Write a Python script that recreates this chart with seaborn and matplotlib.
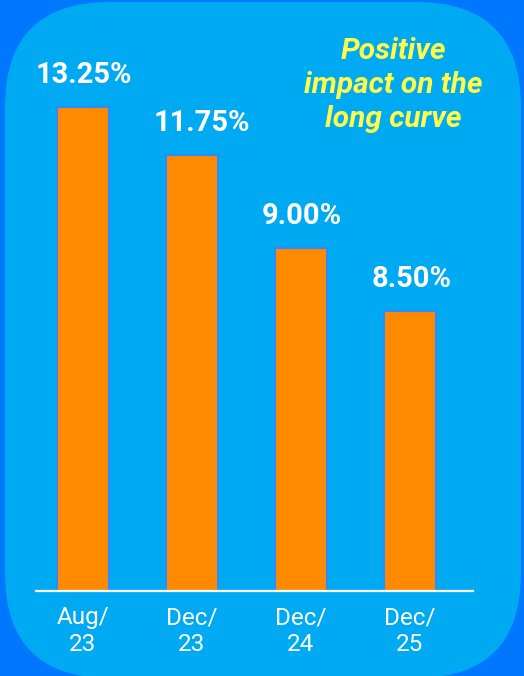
import matplotlib
matplotlib.use("Agg")
import matplotlib.pyplot as plt
from matplotlib.patches import FancyBboxPatch
import seaborn as sns

# data
periods = ["Aug/\n23", "Dec/\n23", "Dec/\n24", "Dec/\n25"]
rates = [13.25, 11.75, 9.00, 8.50]
# the bars in the picture are not drawn to scale, heights as they appear
bar_heights = [13.3, 11.97, 9.42, 7.69]
note = "Positive\nimpact on the\nlong curve"

outer_blue = "#0077ff"
panel_blue = "#00aaf2"
orange = "#ff8a00"
yellow = "#ffff4a"

sns.set_style("white")
plt.rcParams["font.family"] = ["Roboto", "DejaVu Sans"]

fig = plt.figure(figsize=(5.24, 6.76), dpi=100)
fig.patch.set_facecolor(outer_blue)

panel = FancyBboxPatch((0.05, -0.02), 5.16, 6.76,
                       boxstyle="round,pad=0,rounding_size=1.05",
                       transform=fig.dpi_scale_trans,
                       facecolor=panel_blue, edgecolor="none", zorder=0)
fig.add_artist(panel)

ax = fig.add_axes([36 / 524, 85 / 676, 437 / 524, 561 / 676])
ax.set_facecolor("none")

sns.barplot(x=periods, y=bar_heights, color=orange, saturation=1, width=0.48,
            edgecolor="#2a8cff", linewidth=1.5, ax=ax)

# second label sits a little right of its bar in the reference
label_shift = [1, 7, 1, 1]
for i, (h, r) in enumerate(zip(bar_heights, rates)):
    ax.annotate(f"{r:.2f}%", (i, h), xytext=(label_shift[i], 17),
                textcoords="offset points", ha="center", va="baseline",
                color="white", fontsize=21, fontweight="bold")

ax.set_xlim(-0.43, 3.58)
ax.set_ylim(0, 15.4)
ax.set_yticks([])
ax.set_xlabel("")
ax.set_ylabel("")
for side in ["top", "right", "left"]:
    ax.spines[side].set_visible(False)
ax.spines["bottom"].set_color("white")
ax.spines["bottom"].set_linewidth(1.6)
ax.tick_params(axis="x", length=0, pad=11, colors="white", labelsize=17.5)
for lab in ax.get_xticklabels():
    lab.set_linespacing(1.2)

fig.text(0.750, 0.874, note, ha="center", va="center", color=yellow,
         fontsize=21.5, fontweight="bold", fontstyle="italic", linespacing=1.28)

fig.savefig("out.png", dpi=100, facecolor=fig.get_facecolor())
